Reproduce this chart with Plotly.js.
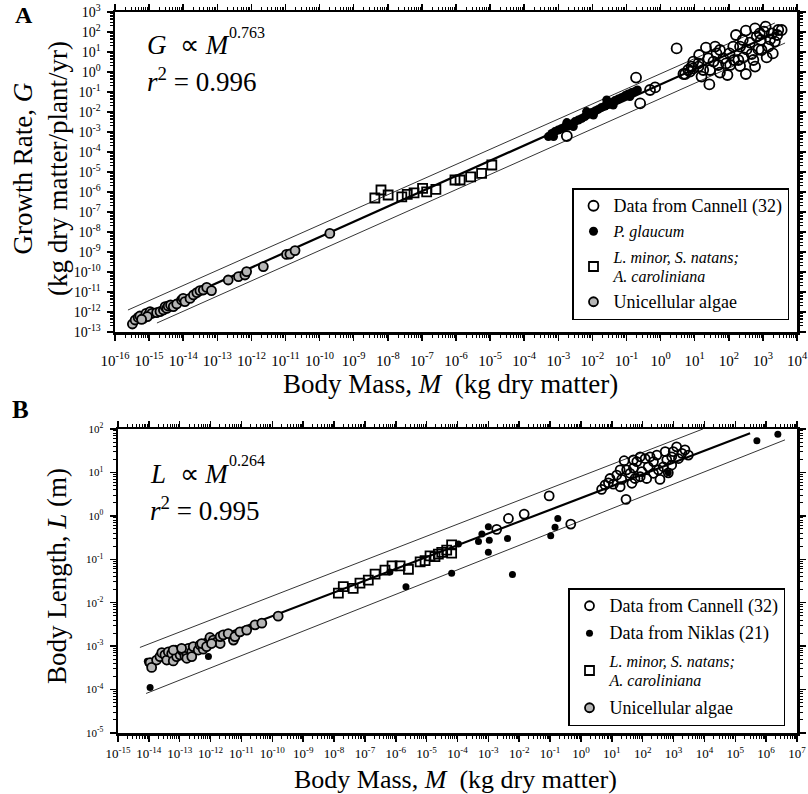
<!DOCTYPE html>
<html>
<head>
<meta charset="utf-8">
<script src="https://cdn.plot.ly/plotly-3.0.1.min.js"></script>
<style>html,body{margin:0;padding:0;background:#fff;}#chart{width:808px;height:794px;}</style>
</head>
<body>
<div id="chart"></div>
<script>
// ---------- Panel A data (log10 values) ----------
const cannellA_logM = [-2.75,-0.72,-0.6,-0.31,-0.16,0.47,0.72,0.86,0.96,1.11,0.67,0.81,0.91,0.96,1.11,1.13,1.33,1.4,1.45,1.43,1.6,1.64,1.74,1.69,1.74,1.96,1.92,2.02,2.13,2.21,2.28,2.33,2.5,2.43,2.52,2.5,2.62,2.67,2.77,2.82,2.87,2.94,3.03,3.08,3.11,3.16,3.26,3.29,3.35,3.42,3.55,3.45,1.25,1.2,2.04,2.15,1.84,2.72,2.96,2.77,1.55,2.33,2.41,2.91,3.21];
const cannellA_logG = [-3.2,-0.28,-1.57,-0.9,-0.77,1.18,-0.1,0.02,0.18,0.27,-0.1,0.1,0.27,0.52,0.43,0.85,1.22,0.68,0.1,-0.62,1.27,0.93,1.1,0.35,-0.03,-0.15,0.43,0.93,1.27,1.85,0.6,0.3,-0.1,0.73,1.13,2.07,1.47,0.9,2.18,1.77,1.13,1.6,2.02,2.27,0.73,1.27,1.93,0.93,1.52,1.85,2.1,2.1,0.1,-0.23,0.35,0.6,0.68,0.6,1.1,0.27,0.52,1.27,1.6,1.93,1.63];

const glaucum_logM = [-3.29,-3.19,-3.10,-3.0,-2.9,-2.8,-2.71,-2.61,-2.51,-2.41,-2.31,-2.22,-2.12,-2.02,-1.92,-1.83,-1.73,-1.63,-1.53,-1.43,-1.34,-1.24,-1.14,-1.04,-0.95,-0.85,-0.75,-0.68,-3.14,-2.56,-1.97,-1.39,-0.9,-1.58,-2.17,-2.75];
const glaucum_logG = [-3.23,-3.07,-2.98,-2.9,-2.82,-2.73,-2.7,-2.6,-2.48,-2.4,-2.32,-2.23,-2.12,-2.03,-1.95,-1.87,-1.77,-1.7,-1.62,-1.52,-1.43,-1.35,-1.27,-1.18,-1.1,-1.03,-0.97,-0.9,-3.23,-2.73,-2.15,-1.65,-1.23,-1.4,-1.98,-2.53];

const lemnaA_logM = [-8.38,-8.2,-7.99,-7.59,-7.43,-7.23,-6.98,-6.86,-6.59,-6.03,-5.88,-5.57,-5.25,-4.95];
const lemnaA_logG = [-6.3,-5.9,-6.15,-6.24,-6.12,-6.04,-5.82,-5.99,-5.87,-5.4,-5.4,-5.24,-5.07,-4.65];

const algaeA_logM = [-15.49,-15.41,-15.32,-15.27,-15.17,-15.09,-15.02,-14.97,-14.92,-15.05,-15.22,-14.78,-14.68,-14.58,-14.53,-14.48,-14.44,-14.37,-14.29,-14.19,-14.05,-14.0,-13.95,-13.8,-13.7,-13.6,-13.51,-13.41,-13.31,-13.17,-12.68,-12.38,-12.19,-12.14,-11.65,-10.97,-10.87,-10.72,-9.7];
const algaeA_logG = [-12.6,-12.4,-12.27,-12.2,-12.32,-12.07,-12.15,-11.98,-12.07,-12.23,-12.37,-12.03,-11.98,-11.9,-11.73,-11.82,-11.7,-11.65,-11.73,-11.6,-11.4,-11.32,-11.48,-11.32,-11.15,-11.03,-10.93,-10.9,-10.77,-10.93,-10.4,-10.23,-10.15,-9.98,-9.73,-9.12,-9.1,-8.93,-8.07];

const fitA_logM = [-15.5, 3.5],   fitA_logG = [-12.45, 2.05];
const upA_logM  = [-15.62, 3.35], upA_logG  = [-11.9, 2.45];
const loA_logM  = [-14.77, 3.65], loA_logG  = [-12.55, 1.45];

// ---------- Panel B data ----------
const cannellB_logM = [-2.73,-2.35,-1.84,-1.03,-0.33,0.67,0.78,0.89,1.05,1.27,1.32,1.4,1.46,1.59,1.7,1.81,1.75,1.92,1.97,2.08,2.18,2.24,2.35,2.46,2.51,2.56,2.67,2.78,2.83,2.94,2.99,3.1,3.16,3.27,3.37,3.48,1.16,1.48,1.65,1.92,2.13,2.35,0.94,2.94,2.73,1.7,1.27];
const cannellB_logL = [-0.31,-0.06,0.04,0.46,-0.19,0.61,0.71,0.76,0.73,0.67,0.84,1.27,0.38,0.98,1.1,1.25,0.86,1.36,1.02,1.32,1.13,1.36,1.25,1.4,1.06,0.84,1.13,1.29,0.99,1.36,1.48,1.59,1.32,1.44,1.52,1.4,0.94,1.06,0.75,0.9,0.86,0.98,0.86,1.17,1.48,1.29,1.06];

const niklas_logM = [-13.96,-14.05,-12.07,-6.19,-5.67,-4.19,-3.97,-3.32,-3.21,-3.0,-2.97,-3.0,-2.38,-2.22,-0.98,-0.84,-0.75,2.83,5.7,6.38];
const niklas_logL = [-3.95,-3.35,-3.24,-1.29,-1.63,-1.32,-0.65,-0.59,-0.42,-0.25,-0.56,-0.84,-0.52,-1.35,-0.46,-0.26,-0.06,0.99,1.73,1.88];

const lemnaB_logM = [-7.86,-7.70,-7.38,-7.16,-6.89,-6.67,-6.35,-6.12,-5.86,-5.59,-5.21,-5.05,-4.89,-4.73,-4.62,-4.51,-4.35,-4.19,-4.19];
const lemnaB_logL = [-1.78,-1.63,-1.67,-1.55,-1.48,-1.34,-1.25,-1.15,-1.15,-1.23,-1.06,-1.03,-0.92,-0.94,-0.88,-0.84,-0.79,-0.67,-0.86];

const algaeB_logM = [-13.96,-13.91,-13.75,-13.64,-13.58,-13.48,-13.42,-13.37,-13.26,-13.21,-13.15,-13.1,-12.99,-12.94,-12.88,-12.83,-12.77,-12.72,-12.61,-12.56,-12.4,-12.34,-12.24,-12.18,-12.07,-12.02,-11.91,-11.8,-11.69,-11.69,-11.59,-11.43,-11.26,-11.21,-11.05,-10.83,-10.56,-10.34,-9.81,-13.21,-12.94,-12.77,-12.61,-12.29,-12.13,-11.97];
const algaeB_logL = [-3.38,-3.49,-3.32,-3.24,-3.15,-3.2,-3.32,-3.13,-3.17,-3.34,-3.09,-3.24,-3.2,-3.09,-3.13,-3.23,-3.17,-3.05,-3.13,-3.01,-3.09,-2.97,-3.07,-2.94,-2.9,-2.8,-2.86,-2.9,-2.94,-2.78,-2.74,-2.71,-2.86,-2.78,-2.67,-2.63,-2.51,-2.47,-2.31,-3.09,-3.05,-3.28,-3.24,-2.94,-3.01,-2.94];

const fitB_logM = [-14.13, 5.48],  fitB_logL = [-3.43, 1.9];
const upB_logM  = [-14.29, 3.95],  upB_logL  = [-3.03, 2.0];
const loB_logM  = [-14.09, 6.61],  loB_logL  = [-4.09, 1.75];

// tick exponents
const xExpA = [-16,-15,-14,-13,-12,-11,-10,-9,-8,-7,-6,-5,-4,-3,-2,-1,0,1,2,3,4];
const yExpA = [-13,-12,-11,-10,-9,-8,-7,-6,-5,-4,-3,-2,-1,0,1,2,3];
const xExpB = [-15,-14,-13,-12,-11,-10,-9,-8,-7,-6,-5,-4,-3,-2,-1,0,1,2,3,4,5,6,7];
const yExpB = [-5,-4,-3,-2,-1,0,1,2];

// ---------- helpers ----------
const P = v => v.map(e => Math.pow(10, e));
const FONT = 'Liberation Serif, Times New Roman, serif';
const W = 808, H = 794;
const px = x => x / W, py = y => 1 - y / H;

const openC = {symbol:'circle-open', color:'black', size:10, line:{color:'black', width:1.8}};
const openS = {symbol:'square-open', color:'black', size:9, line:{color:'black', width:1.8}};
const grayC = {symbol:'circle', color:'#b5b5b5', size:9, line:{color:'black', width:1.8}};

const up = s => '<span style="font-size:18px">' + s + '</span>';
const it = s => '<span style="font-size:16px"><i>' + s + '</i></span>';

const lineT = (xs, ys, w, xa, ya) => ({x:P(xs), y:P(ys), mode:'lines', line:{color:'black', width:w}, showlegend:false, xaxis:xa, yaxis:ya, hoverinfo:'skip'});

const traces = [
  lineT(upA_logM, upA_logG, 0.8, 'x', 'y'),
  lineT(loA_logM, loA_logG, 0.8, 'x', 'y'),
  lineT(fitA_logM, fitA_logG, 2.2, 'x', 'y'),
  {x:P(cannellA_logM), y:P(cannellA_logG), mode:'markers', marker:openC, name:up('Data from Cannell (32)'), legend:'legend', legendgroup:'a1', xaxis:'x', yaxis:'y'},
  {x:P(glaucum_logM), y:P(glaucum_logG), mode:'markers', marker:{symbol:'circle', color:'black', size:9}, name:it('P. glaucum'), legend:'legend', legendgroup:'a2', xaxis:'x', yaxis:'y'},
  {x:P(lemnaA_logM), y:P(lemnaA_logG), mode:'markers', marker:openS, name:it('L. minor, S. natans;') + '<br>' + it('A. caroliniana'), legend:'legend', legendgroup:'a3', xaxis:'x', yaxis:'y'},
  {x:P(algaeA_logM), y:P(algaeA_logG), mode:'markers', marker:grayC, name:up('Unicellular algae'), legend:'legend', legendgroup:'a4', xaxis:'x', yaxis:'y'},

  lineT(upB_logM, upB_logL, 0.8, 'x2', 'y2'),
  lineT(loB_logM, loB_logL, 0.8, 'x2', 'y2'),
  lineT(fitB_logM, fitB_logL, 2.2, 'x2', 'y2'),
  {x:P(cannellB_logM), y:P(cannellB_logL), mode:'markers', marker:{...openC, size:9}, name:up('Data from Cannell (32)'), legend:'legend2', legendgroup:'b1', xaxis:'x2', yaxis:'y2'},
  {x:P(niklas_logM), y:P(niklas_logL), mode:'markers', marker:{symbol:'circle', color:'black', size:7}, name:up('Data from Niklas (21)'), legend:'legend2', legendgroup:'b2', xaxis:'x2', yaxis:'y2'},
  {x:P(lemnaB_logM), y:P(lemnaB_logL), mode:'markers', marker:openS, name:it('L. minor, S. natans;') + '<br>' + it('A. caroliniana'), legend:'legend2', legendgroup:'b3', xaxis:'x2', yaxis:'y2'},
  {x:P(algaeB_logM), y:P(algaeB_logL), mode:'markers', marker:grayC, name:up('Unicellular algae'), legend:'legend2', legendgroup:'b4', xaxis:'x2', yaxis:'y2'}
];

const tt = e => '10<sup>' + e + '</sup>';
const axisBase = (exps, size, range, domain, anchor, standoff) => ({
  type:'log', range:range, domain:domain, anchor:anchor,
  tickmode:'array', tickvals:P(exps), ticktext:exps.map(tt),
  ticks:'outside', ticklen:6, tickwidth:1.5, tickcolor:'black',
  minor:{ticks:'outside', ticklen:3, tickwidth:1, tickcolor:'black', dtick:'D1'},
  showline:true, linecolor:'black', linewidth:2.5, mirror:'ticks',
  showgrid:false, zeroline:false,
  tickfont:{family:FONT, size:size, color:'black'}, ticklabelstandoff:standoff
});

const ann = (text, x, y, size, opts) => Object.assign({
  text:text, x:px(x), y:py(y), xref:'paper', yref:'paper', showarrow:false,
  font:{family:FONT, size:size, color:'black'}, xanchor:'center', yanchor:'middle'
}, opts || {});

const legendBase = (x, y, gap) => ({
  x:px(x), y:py(y), xanchor:'left', yanchor:'top', xref:'paper', yref:'paper',
  bgcolor:'white', bordercolor:'black', borderwidth:1.5,
  font:{family:FONT, size:15, color:'black'}, traceorder:'grouped', tracegroupgap:gap,
  itemsizing:'trace'
});

const layout = {
  width:W, height:H, margin:{l:0, r:0, t:0, b:0},
  paper_bgcolor:'white', plot_bgcolor:'white', showlegend:true,
  xaxis: axisBase(xExpA, 15, [-16, 4], [px(115), px(797)], 'y', 7),
  yaxis: axisBase(yExpA, 14, [-13, 3], [py(332), py(12)], 'x', 3),
  xaxis2: axisBase(xExpB, 13, [-15, 7], [px(118), px(797)], 'y2', 1),
  yaxis2: axisBase(yExpB, 11, [-5, 2], [py(733), py(429)], 'x2', 4),
  legend: legendBase(572, 188, 3),
  legend2: legendBase(568, 588, 5),
  annotations: [
    ann('<b>A</b>', 24, 15, 24),
    ann('<b>B</b>', 20, 409, 25),
    ann('Growth Rate, <i>G</i><br>(kg dry matter/plant/yr)', 40, 169, 27, {textangle:-90}),
    ann('Body Mass, <i>M</i>\u00a0\u00a0(kg dry matter)', 450, 384, 27),
    ann('Body Length, <i>L</i> (m)', 57, 576, 27, {textangle:-90}),
    ann('Body Mass, <i>M</i>\u00a0\u00a0(kg dry matter)', 456, 778, 26, {yanchor:'bottom', y:py(796)}),
    ann('<i>G</i>\u00a0\u00a0\u221d\u00a0<i>M</i>', 145, 45, 27, {xanchor:'left'}),
    ann('0.763', 227, 33, 16, {xanchor:'left'}),
    ann('<i>r</i><sup>2</sup> = 0.996', 145, 80, 27, {xanchor:'left'}),
    ann('<i>L</i>\u00a0\u00a0\u221d\u00a0<i>M</i>', 148, 474, 27, {xanchor:'left'}),
    ann('0.264', 227, 460, 16, {xanchor:'left'}),
    ann('<i>r</i><sup>2</sup> = 0.995', 148, 509, 27, {xanchor:'left'})
  ]
};

Plotly.newPlot('chart', traces, layout, {displayModeBar:false, staticPlot:true});
</script>
</body>
</html>
